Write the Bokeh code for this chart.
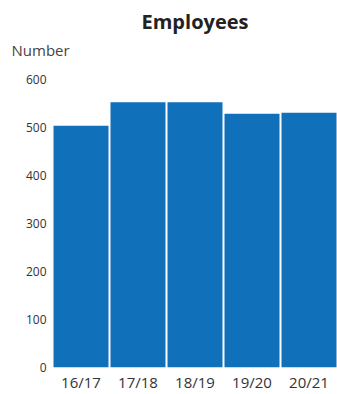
from bokeh.plotting import figure
from bokeh.models import Range1d, FactorRange, Title, ColumnDataSource
from bokeh.embed import file_html
from bokeh.resources import INLINE

years = ["16/17", "17/18", "18/19", "19/20", "20/21"]
employees = [504, 553, 553, 529, 531]
y_ticks = [0, 100, 200, 300, 400, 500, 600]

src = ColumnDataSource(dict(x=years, y=employees))

p = figure(width=337, height=394, output_backend="svg", toolbar_location=None,
           x_range=FactorRange(*years, range_padding=0), y_range=Range1d(0, 646),
           min_border_left=52, min_border_right=0, min_border_top=0, min_border_bottom=0)
p.outline_line_color = None
p.background_fill_color = "white"
p.border_fill_color = "white"
p.xgrid.grid_line_color = None
p.ygrid.grid_line_color = None

p.vbar(x="x", top="y", width=0.965, source=src, color="#1071BA", line_color=None)

p.yaxis.ticker = y_ticks
for ax in (p.xaxis, p.yaxis):
    ax.axis_line_color = None
    ax.major_tick_line_color = None
    ax.minor_tick_line_color = None
    ax.major_tick_out = 0
    ax.major_tick_in = 0
    ax.minor_tick_out = 0
    ax.minor_tick_in = 0
    ax.major_label_text_color = "#333333"
    ax.major_label_text_font = "Open Sans"
p.yaxis.major_label_text_font_size = "12px"
p.yaxis.major_label_standoff = 6
p.xaxis.major_label_text_font_size = "15px"
p.xaxis.major_label_standoff = 4

p.add_layout(Title(text="Number", align="left", offset=-41, standoff=-4,
                   text_font="Open Sans", text_font_style="normal", text_font_size="15px",
                   text_color="#444444"), "above")
p.add_layout(Title(text="Employees", align="center", standoff=10,
                   text_font="Open Sans", text_font_style="bold", text_font_size="20px",
                   text_color="#222222"), "above")

open("out.html", "w").write(file_html(p, INLINE))
